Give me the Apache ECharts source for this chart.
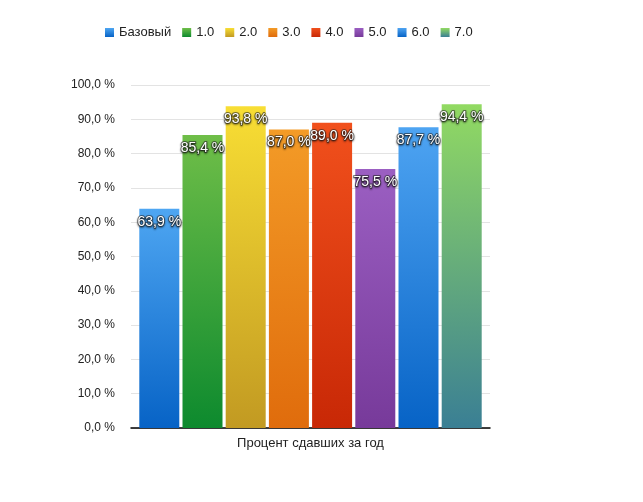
<!DOCTYPE html>
<html><head><meta charset="utf-8">
<script src="https://cdn.jsdelivr.net/npm/echarts@6/dist/echarts.min.js"></script>
<style>html,body{margin:0;padding:0;background:#fff}#c{width:643px;height:502px}</style>
</head><body><div id="c"></div>
<script>
var categories = ['Процент сдавших за год'];
var seriesNames = ['Базовый', '1.0', '2.0', '3.0', '4.0', '5.0', '6.0', '7.0'];
var values = [63.9, 85.4, 93.8, 87.0, 89.0, 75.5, 87.7, 94.4];
var yTicks = [0, 10, 20, 30, 40, 50, 60, 70, 80, 90, 100];
var topColors = ['#4ea6f2', '#6fbe48', '#f8de34', '#f39b27', '#f1501c', '#9b5fc2', '#4ea4f2', '#92da62'];
var bottomColors = ['#0763c6', '#0d8a2e', '#c29a22', '#e06c0c', '#c82806', '#773a9a', '#0763c6', '#3a7f94'];

var fmt = function (v) { return v.toFixed(1).replace('.', ',') + ' %'; };
var FONT = '"Liberation Sans", Arial, sans-serif';

var series = seriesNames.map(function (name, i) {
  return {
    name: name,
    type: 'bar',
    barWidth: 40,
    barGap: '8%',
    data: [values[i]],
    itemStyle: {
      color: new echarts.graphic.LinearGradient(0, 0, 0, 1, [
        { offset: 0, color: topColors[i] },
        { offset: 1, color: bottomColors[i] }
      ])
    },
    label: {
      show: true,
      position: 'insideTop',
      distance: 6,
      formatter: function (p) { return fmt(p.value); },
      color: '#fff',
      fontFamily: FONT,
      fontSize: 14,
      textBorderColor: 'rgba(40,40,40,0.55)',
      textBorderWidth: 2,
      textShadowColor: 'rgba(0,0,0,0.6)',
      textShadowBlur: 2,
      textShadowOffsetY: 1
    }
  };
});

var chart = echarts.init(document.getElementById('c'), null, { renderer: 'canvas' });
chart.setOption({
  animation: false,
  backgroundColor: '#fff',
  legend: {
    top: 21,
    left: 100,
    icon: 'rect',
    itemWidth: 9,
    itemHeight: 9,
    itemGap: 11,
    textStyle: { fontFamily: FONT, fontSize: 13, color: '#222' },
    data: seriesNames
  },
  grid: { left: 131, right: 153, top: 85, bottom: 74 },
  xAxis: {
    type: 'category',
    data: categories,
    axisLine: { lineStyle: { color: '#000', width: 1.5 } },
    axisTick: { show: false },
    axisLabel: { fontFamily: FONT, fontSize: 13, color: '#222', margin: 9 }
  },
  yAxis: {
    type: 'value',
    min: yTicks[0],
    max: yTicks[yTicks.length - 1],
    interval: 10,
    axisLine: { show: false },
    axisTick: { show: false },
    splitLine: { lineStyle: { color: '#e3e3e3', width: 1 } },
    axisLabel: { fontFamily: FONT, fontSize: 12, color: '#222', margin: 16, formatter: fmt }
  },
  series: series
});
</script>
</body></html>
